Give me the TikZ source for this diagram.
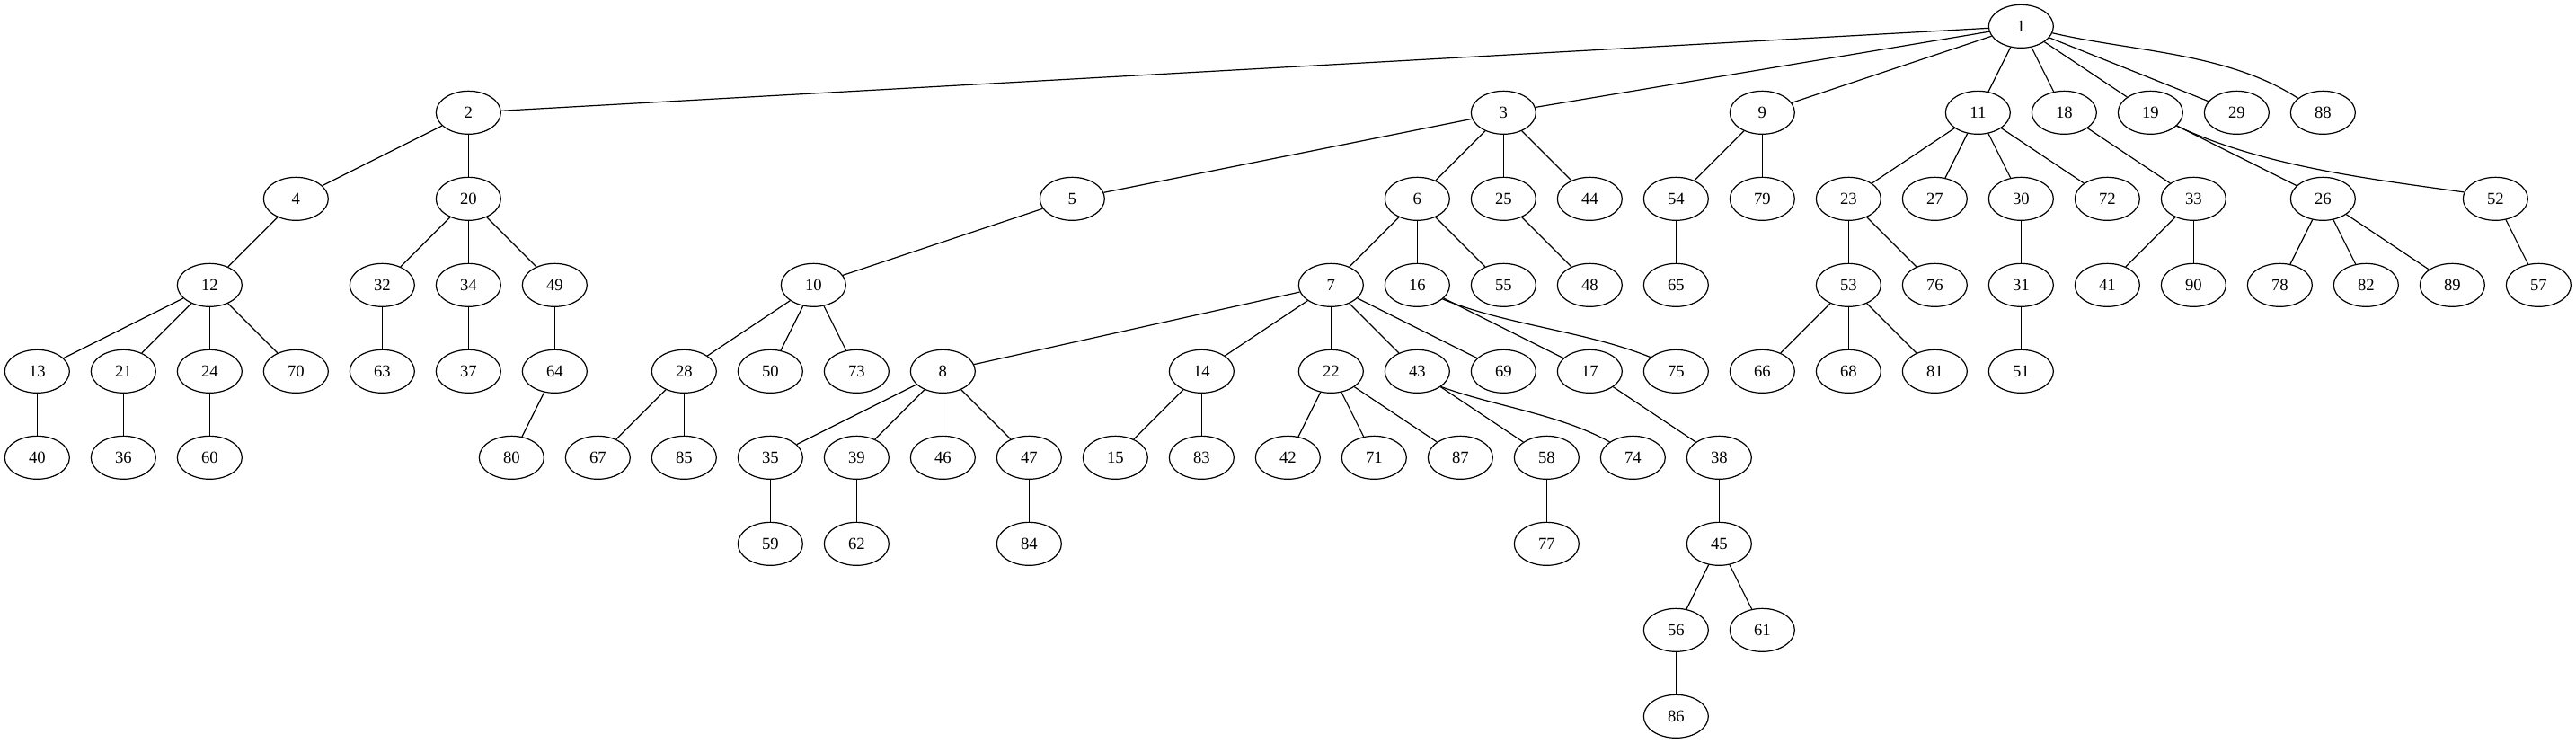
\documentclass[tikz,border=0pt]{standalone}
\usepackage{fontspec}
\setmainfont{Liberation Serif}
\usetikzlibrary{shapes.geometric}
\tikzset{
  nd/.style={draw, ellipse, line width=0.9pt, minimum width=54pt, minimum height=36pt, inner sep=0pt, font=\fontsize{14}{16}\selectfont},
  edge/.style={line width=0.9pt}
}
\begin{document}
\begin{tikzpicture}
\fill[white] (0pt,0pt) rectangle (2150.25pt,-620.25pt);
\useasboundingbox (0pt,0pt) rectangle (2150.25pt,-620.25pt);
\begin{scope}[shift={(31pt,-22pt)}, x=72pt, y=-72pt]
% rank 0
\foreach \n/\k in {1/23} \node[nd] (n\n) at (\k,0) {\n};
% rank 1
\foreach \n/\k in {2/5,3/17,9/20,11/22.5,18/23.5,19/24.5,29/25.5,88/26.5} \node[nd] (n\n) at (\k,1) {\n};
% rank 2
\foreach \n/\k in {4/3,20/5,5/12,6/16,25/17,44/18,54/19,79/20,23/21,27/22,30/23,72/24,33/25,26/26.5,52/28.5} \node[nd] (n\n) at (\k,2) {\n};
% rank 3
\foreach \n/\k in {12/2,32/4,34/5,49/6,10/9,7/15,16/16,55/17,48/18,65/19,53/21,76/22,31/23,41/24,90/25,78/26,82/27,89/28,57/29} \node[nd] (n\n) at (\k,3) {\n};
% rank 4
\foreach \n/\k in {13/0,21/1,24/2,70/3,63/4,37/5,64/6,28/7.5,50/8.5,73/9.5,8/10.5,14/13.5,22/15,43/16,69/17,17/18,75/19,66/20,68/21,81/22,51/23} \node[nd] (n\n) at (\k,4) {\n};
% rank 5
\foreach \n/\k in {40/0,36/1,60/2,80/5.5,67/6.5,85/7.5,35/8.5,39/9.5,46/10.5,47/11.5,15/12.5,83/13.5,42/14.5,71/15.5,87/16.5,58/17.5,74/18.5,38/19.5} \node[nd] (n\n) at (\k,5) {\n};
% rank 6
\foreach \n/\k in {59/8.5,62/9.5,84/11.5,77/17.5,45/19.5} \node[nd] (n\n) at (\k,6) {\n};
% rank 7
\foreach \n/\k in {56/19,61/20} \node[nd] (n\n) at (\k,7) {\n};
% rank 8
\foreach \n/\k in {86/19} \node[nd] (n\n) at (\k,8) {\n};
\end{scope}
% straight edges
\foreach \a/\b in {1/2,1/3,1/9,1/11,1/18,1/19,1/29,
  2/4,2/20,3/5,3/6,3/25,3/44,9/54,9/79,11/23,11/27,11/30,11/72,18/33,19/26,
  4/12,20/32,20/34,20/49,5/10,6/7,6/16,6/55,25/48,54/65,23/53,23/76,30/31,33/41,33/90,26/78,26/82,26/89,52/57,
  12/13,12/21,12/24,12/70,32/63,34/37,49/64,10/28,10/50,10/73,7/8,7/14,7/22,7/43,7/69,16/17,53/66,53/68,53/81,31/51,
  13/40,21/36,24/60,64/80,28/67,28/85,8/35,8/39,8/46,8/47,14/15,14/83,22/42,22/71,22/87,43/58,17/38,
  35/59,39/62,47/84,58/77,38/45,45/56,45/61,56/86}
  \draw[edge] (n\a) -- (n\b);
% curved edges
\draw[edge] (n1.-12) .. controls +(-13:70pt) and +(147:70pt) .. (n88.150);
\draw[edge] (n19.-27) .. controls +(-25:80pt) and +(172:80pt) .. (n52.168);
\draw[edge] (n16.-29) .. controls +(-22:58pt) and +(158:58pt) .. (n75.151);
\draw[edge] (n43.-33) .. controls +(-20:48pt) and +(151:48pt) .. (n74.146);
\end{tikzpicture}
\end{document}
